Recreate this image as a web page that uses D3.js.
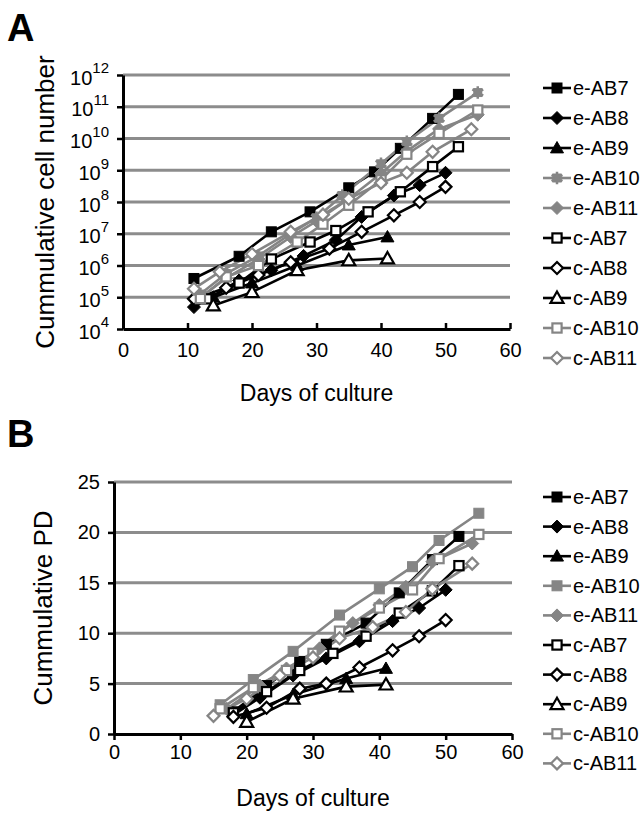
<!DOCTYPE html>
<html><head><meta charset="utf-8">
<script src="https://cdn.jsdelivr.net/npm/d3@7"></script>
<style>body{margin:0;background:#fff}text{font-family:Arial,"Liberation Sans",sans-serif;fill:#000}</style>
</head><body>
<svg id="chart" width="642" height="814"></svg>
<script>
// ---------- DATA ----------
const seriesNames = ["e-AB7","e-AB8","e-AB9","e-AB10","e-AB11","c-AB7","c-AB8","c-AB9","c-AB10","c-AB11"];
const dayTicks = [0,10,20,30,40,50,60];
const cellTicks = [1e4,1e5,1e6,1e7,1e8,1e9,1e10,1e11,1e12];
const cellTickExp = ["4","5","6","7","8","9","10","11","12"];
const pdTicks = [0,5,10,15,20,25];

// Panel A: cumulative cell number [day, cells]
const cell_eAB7  = [[11,3.9e5],[18,1.95e6],[23,1.15e7],[29,4.9e7],[35,2.8e8],[39,8.9e8],[43,4.9e9],[48,4.3e10],[52,2.45e11]];
const cell_eAB8  = [[11,4.9e4],[18,3.4e5],[23,7.1e5],[28,2.0e6],[33,6.3e6],[37,3.4e7],[42,1.6e8],[46,3.4e8],[50,8.3e8]];
const cell_eAB9  = [[14,1.0e5],[20,2.8e5],[27,1.0e6],[35,4.4e6],[41,7.9e6]];
const cell_eAB10 = [[12,1.26e5],[16,5.6e5],[21,2.0e6],[26,1.0e7],[30,3.2e7],[34,1.6e8],[40,1.6e9],[44,7.9e9],[49,4.3e10],[55,2.8e11]];
const cell_eAB11 = [[12,1.0e5],[16,4.0e5],[21,1.6e6],[26,7.9e6],[30,2.5e7],[35,1.26e8],[40,7.9e8],[44,4.0e9],[49,2.0e10],[55,5.6e10]];
const cell_cAB7  = [[13,8.9e4],[18,2.8e5],[23,1.6e6],[29,5.5e6],[33,1.26e7],[38,4.9e7],[43,2.1e8],[48,1.3e9],[52,5.5e9]];
const cell_cAB8  = [[11,8.9e4],[16,2.0e5],[21,5.0e5],[26,1.26e6],[32,3.4e6],[37,1.15e7],[42,3.8e7],[46,1.0e8],[50,3.0e8]];
const cell_cAB9  = [[14,5.5e4],[20,1.45e5],[27,7.1e5],[35,1.45e6],[41,1.66e6]];
const cell_cAB10 = [[12,9.1e4],[16,4.4e5],[21,1.0e6],[27,5.5e6],[31,2.0e7],[35,7.9e7],[40,5.0e8],[44,3.2e9],[49,1.45e10],[55,7.9e10]];
const cell_cAB11 = [[11,1.86e5],[15,6.3e5],[20,2.3e6],[26,1.15e7],[31,4.0e7],[35,1.26e8],[40,4.0e8],[44,8.3e8],[48,3.8e9],[54,1.95e10]];

// Panel B: cumulative population doublings [day, PD]
const pd_eAB7  = [[18,2.2],[23,4.8],[28,7.2],[32,8.9],[38,11.0],[43,14.0],[48,17.3],[52,19.6]];
const pd_eAB8  = [[18,1.9],[22,3.6],[27,5.8],[32,7.5],[37,9.2],[42,11.2],[46,12.5],[50,14.3]];
const pd_eAB9  = [[20,2.0],[27,3.9],[35,5.5],[41,6.5]];
const pd_eAB10 = [[16,2.9],[21,5.4],[27,8.2],[34,11.8],[40,14.4],[45,16.6],[49,19.2],[55,21.9]];
const pd_eAB11 = [[17,2.5],[22,4.8],[26,6.5],[31,8.5],[36,11.0],[40,12.8],[44,14.6],[48,17.1],[54,18.9]];
const pd_cAB7  = [[18,2.1],[23,4.2],[28,6.3],[33,8.0],[38,9.7],[43,12.0],[48,14.2],[52,16.7]];
const pd_cAB8  = [[18,1.7],[23,2.6],[28,4.5],[32,5.0],[37,6.6],[42,8.3],[46,9.7],[50,11.3]];
const pd_cAB9  = [[20,1.2],[27,3.5],[35,4.7],[41,4.9]];
const pd_cAB10 = [[16,2.5],[21,4.6],[26,6.3],[30,8.0],[34,10.2],[40,12.5],[45,14.3],[49,17.4],[55,19.8]];
const pd_cAB11 = [[15,1.8],[20,3.5],[25,5.8],[30,7.6],[34,9.5],[39,10.6],[44,12.1],[48,14.4],[54,16.9]];

const cellSeries = [cell_eAB7,cell_eAB8,cell_eAB9,cell_eAB10,cell_eAB11,cell_cAB7,cell_cAB8,cell_cAB9,cell_cAB10,cell_cAB11];
const pdSeries = [pd_eAB7,pd_eAB8,pd_eAB9,pd_eAB10,pd_eAB11,pd_cAB7,pd_cAB8,pd_cAB9,pd_cAB10,pd_cAB11];

// ---------- STYLES ----------
const BLK = "#000", GRY = "#858585", GRID = "#8c8c8c";
const styles = [
  {c:BLK, shape:"square",  open:false},
  {c:BLK, shape:"diamond", open:false},
  {c:BLK, shape:"triangle",open:false},
  {c:GRY, shape:"star",    open:false},
  {c:GRY, shape:"diamond", open:false},
  {c:BLK, shape:"square",  open:true},
  {c:BLK, shape:"diamond", open:true},
  {c:BLK, shape:"triangle",open:true},
  {c:GRY, shape:"square",  open:true},
  {c:GRY, shape:"diamond", open:true}
];

const svg = d3.select("#chart");

function marker(g, st, x, y, shapeOverride) {
  const shape = shapeOverride || st.shape;
  const fill = st.open ? "#fff" : st.c;
  const sw = st.open ? 2.2 : 1;
  let el;
  if (shape === "square") {
    const s = st.open ? 4.6 : 5;
    el = g.append("rect").attr("x", x - s).attr("y", y - s).attr("width", 2*s).attr("height", 2*s);
  } else if (shape === "diamond") {
    const r = st.open ? 6 : 6.5;
    el = g.append("path").attr("d", `M${x},${y-r}L${x+r},${y}L${x},${y+r}L${x-r},${y}Z`);
  } else if (shape === "triangle") {
    const r = 6.5;
    el = g.append("path").attr("d", `M${x},${y-r}L${x+r},${y+r*0.75}L${x-r},${y+r*0.75}Z`);
  } else if (shape === "star") {
    const s = 4.5;
    g.append("rect").attr("x", x - s).attr("y", y - s).attr("width", 2*s).attr("height", 2*s).attr("fill", st.c);
    g.append("path").attr("d", d3.symbol(d3.symbolAsterisk, 110)()).attr("transform", `translate(${x},${y})`)
      .attr("fill", "none").attr("stroke", st.c).attr("stroke-width", 2.5);
    return;
  }
  el.attr("fill", fill).attr("stroke", st.c).attr("stroke-width", sw).attr("stroke-linejoin", "miter");
}

function drawPanel(cfg) {
  const {x, y, series, left, right, top, bottom, xTickDir} = cfg;
  const g = svg.append("g");
  g.selectAll("line.grid").data(cfg.gridVals).join("line")
    .attr("x1", left).attr("x2", right)
    .attr("y1", d => y(d)).attr("y2", d => y(d))
    .attr("stroke", GRID).attr("stroke-width", 3);
  const xa = g.append("g").attr("transform", `translate(0,${bottom})`)
    .call(d3.axisBottom(x).tickValues(dayTicks).tickSizeInner(xTickDir).tickSizeOuter(0).tickPadding(cfg.xPad));
  xa.select(".domain").attr("stroke", "#000").attr("stroke-width", 3);
  xa.selectAll(".tick line").attr("stroke", "#000").attr("stroke-width", 2.5);
  xa.selectAll(".tick text").attr("font-size", 20).attr("font-family", "Arial, 'Liberation Sans', sans-serif");
  const ya = g.append("g").attr("transform", `translate(${left},0)`).call(cfg.yAxis);
  ya.select(".domain").attr("stroke", "#000").attr("stroke-width", 3);
  ya.selectAll(".tick line").attr("stroke", "#000").attr("stroke-width", 2.5);
  ya.selectAll(".tick text").attr("font-size", 20).attr("font-family", "Arial, 'Liberation Sans', sans-serif");
  if (cfg.logLabels) {
    ya.selectAll(".tick text").each(function(d, i) {
      const t = d3.select(this).text("").attr("dy", "0.45em");
      t.append("tspan").text("10");
      t.append("tspan").text(cellTickExp[i]).attr("font-size", 15).attr("dy", "-0.75em");
    });
  }
  const line = d3.line().x(d => x(d[0])).y(d => y(d[1]));
  series.forEach((s, i) => {
    g.append("path").datum(s).attr("d", line).attr("fill", "none")
      .attr("stroke", styles[i].c).attr("stroke-width", 2.6);
  });
  series.forEach((s, i) => {
    const mg = g.append("g");
    s.forEach(p => marker(mg, styles[i], x(p[0]), y(p[1]), cfg.panel === "B" && i === 3 ? "square" : null));
  });
  const lg = g.append("g");
  seriesNames.forEach((n, i) => {
    const ly = cfg.legendTop + i * cfg.legendStep;
    const st = styles[i];
    lg.append("line").attr("x1", 543).attr("x2", 571).attr("y1", ly).attr("y2", ly)
      .attr("stroke", st.c).attr("stroke-width", 2.6);
    marker(lg, st, 557, ly, cfg.panel === "B" && i === 3 ? "square" : null);
    lg.append("text").attr("x", 573).attr("y", ly + 7).attr("font-size", 20).text(n);
  });
  g.append("text").attr("x", (left + right) / 2).attr("y", cfg.xTitleY).attr("text-anchor", "middle")
    .attr("font-size", 23).text("Days of culture");
  g.append("text").attr("transform", `translate(${cfg.yTitleX},${(top + bottom) / 2}) rotate(-90)`)
    .attr("text-anchor", "middle").attr("font-size", 26).text(cfg.yTitle);
  g.append("text").attr("x", 7).attr("y", cfg.labelY).attr("font-size", 38).attr("font-weight", "bold").text(cfg.panel);
}

// Panel A
{
  const left = 123, right = 510, top = 75, bottom = 329;
  const x = d3.scaleLinear().domain([0, 60]).range([left, right]);
  const y = d3.scaleLog().domain([1e4, 1e12]).range([bottom, top]);
  drawPanel({
    panel: "A", x, y, series: cellSeries, left, right, top, bottom,
    gridVals: cellTicks.slice(1), xTickDir: -6, xPad: 14,
    yAxis: d3.axisLeft(y).tickValues(cellTicks).tickSizeInner(6).tickSizeOuter(0).tickPadding(8),
    logLabels: true, legendTop: 88, legendStep: 30,
    xTitleY: 401, yTitleX: 54, yTitle: "Cummulative cell number", labelY: 41
  });
}
// Panel B
{
  const left = 114, right = 512, top = 482, bottom = 734;
  const x = d3.scaleLinear().domain([0, 60]).range([left, right]);
  const y = d3.scaleLinear().domain([0, 25]).range([bottom, top]);
  drawPanel({
    panel: "B", x, y, series: pdSeries, left, right, top, bottom,
    gridVals: pdTicks.slice(1), xTickDir: 6, xPad: 5,
    yAxis: d3.axisLeft(y).tickValues(pdTicks).tickSizeInner(6).tickSizeOuter(0).tickPadding(8),
    logLabels: false, legendTop: 497, legendStep: 29.6,
    xTitleY: 806, yTitleX: 52, yTitle: "Cummulative PD", labelY: 447
  });
}
</script>
</body></html>
